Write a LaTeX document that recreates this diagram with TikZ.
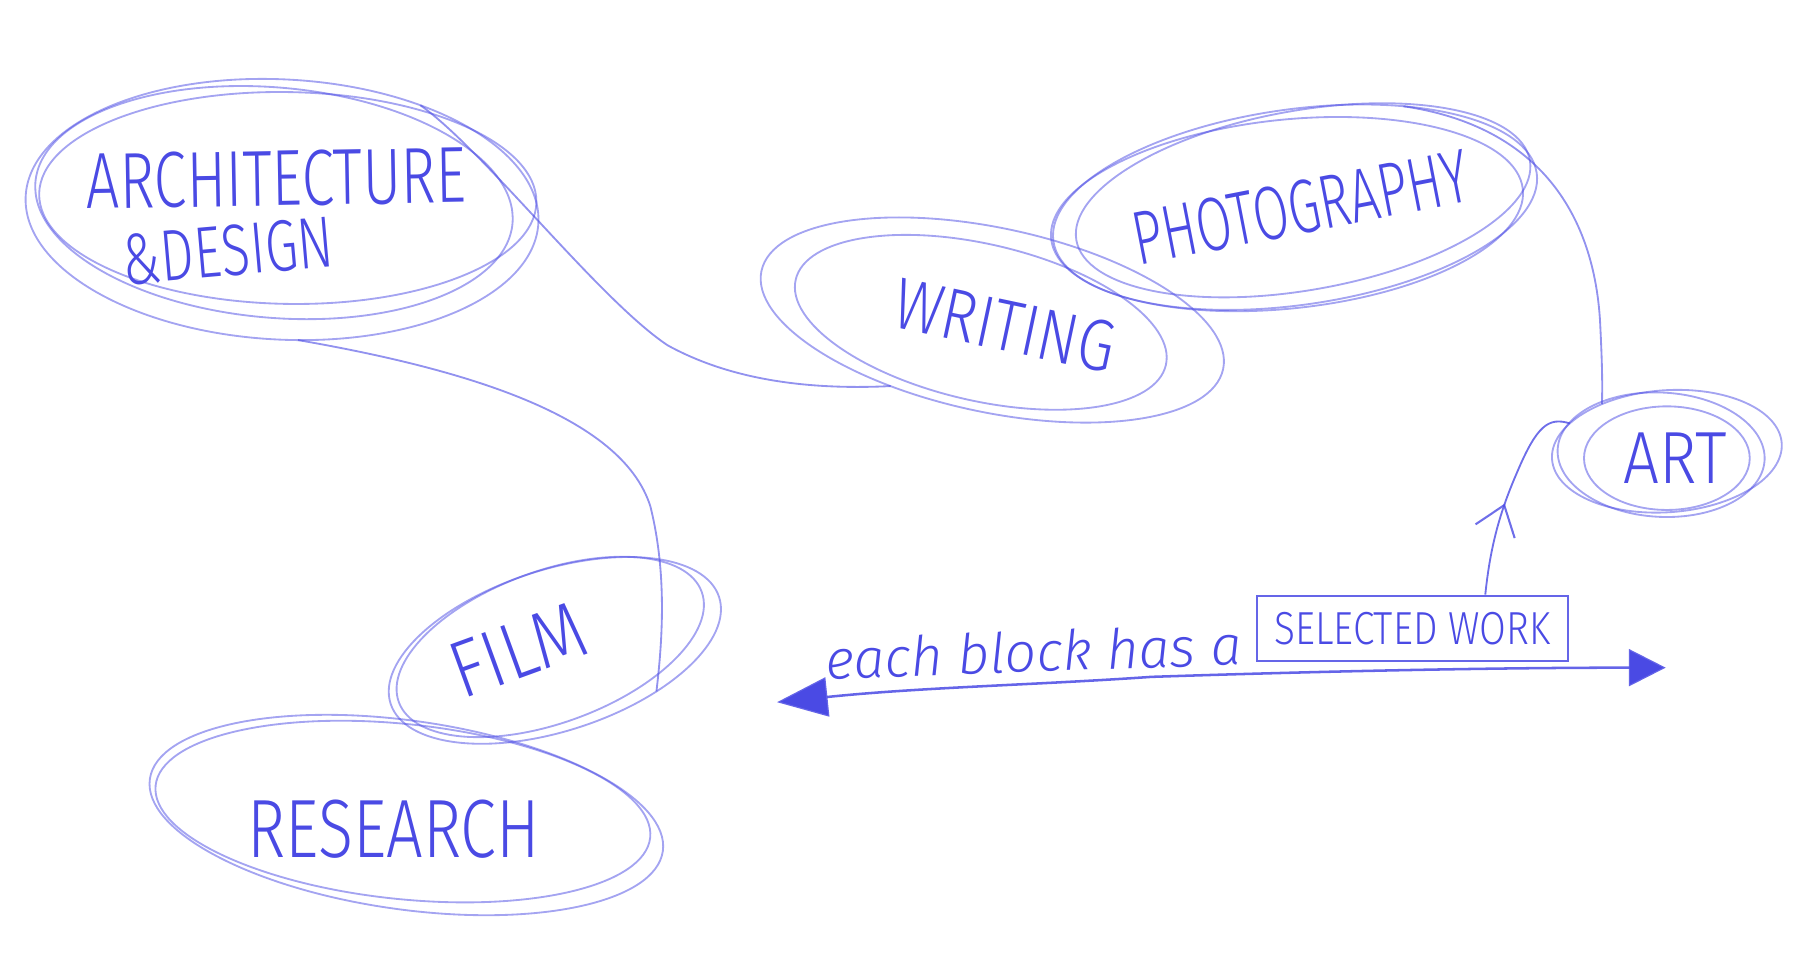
\documentclass[tikz,border=0pt]{standalone}
\usepackage{fontspec}
\setmainfont{Fira Sans}[UprightFont=* Light, ItalicFont=* Light Italic]
\usetikzlibrary{shapes.geometric,arrows.meta,decorations.markings}
\definecolor{pen}{RGB}{74,74,228}
\tikzset{
  stroke/.style={draw=pen, line width=0.8pt, draw opacity=0.5},
  bubble/.style={stroke, ellipse, inner sep=0pt, outer sep=0pt},
  lbl/.style={text=pen, inner sep=0pt},
  link/.style={draw=pen, line width=0.8pt, draw opacity=0.6},
  boxed/.style={draw=pen, line width=1pt, draw opacity=0.85, rectangle, inner sep=0pt,
    minimum width=135pt, minimum height=28.5pt, text=pen},
  bigarrow/.style={draw=pen, line width=1.1pt, draw opacity=0.85},
}
\begin{document}
\begin{tikzpicture}[x=0.5pt,y=-0.5pt]
\useasboundingbox (0,0) rectangle (1568,844);

% ARCHITECTURE & DESIGN
\node[bubble, minimum width=223pt, minimum height=113pt, rotate=-3] (arch) at (245,182) {};
\draw[stroke, rotate around={-5:(238,176)}] (238,176) ellipse [x radius=104pt, y radius=50pt];
\draw[stroke, rotate around={-1:(250,172)}] (250,172) ellipse [x radius=108pt, y radius=46pt];
\node[lbl, rotate=1] (tarch) at (240,155) {\resizebox{165pt}{24pt}{ARCHITECTURE}};
\node[lbl, rotate=5] (tdesign) at (198,218) {\resizebox{92pt}{22pt}{\&DESIGN}};

% WRITING
\node[bubble, minimum width=205pt, minimum height=80pt, rotate=-12] (writing) at (862,278) {};
\draw[stroke, rotate around={-13:(852,280)}] (852,280) ellipse [x radius=82.5pt, y radius=34pt];
\node[lbl, rotate=-12] (twriting) at (873,283) {\resizebox{97pt}{22pt}{WRITING}};

% PHOTOGRAPHY
\node[bubble, minimum width=212pt, minimum height=85pt, rotate=8] (photo) at (1125,180) {};
\draw[stroke, rotate around={10:(1132,174)}] (1132,174) ellipse [x radius=100pt, y radius=39pt];
\draw[stroke, rotate around={6:(1118,186)}] (1118,186) ellipse [x radius=103pt, y radius=41pt];
\node[lbl, rotate=11] (tphoto) at (1130,180) {\resizebox{148pt}{23pt}{PHOTOGRAPHY}};

% ART
\node[bubble, minimum width=100pt, minimum height=53pt, rotate=4] (art) at (1448,392) {};
\draw[stroke] (1448,398) ellipse [x radius=36pt, y radius=22.5pt];
\draw[stroke, rotate around={-3:(1443,395)}] (1443,395) ellipse [x radius=45pt, y radius=27pt];
\node[lbl] (tart) at (1455,398) {\resizebox{45pt}{22pt}{ART}};

% FILM
\node[bubble, minimum width=150pt, minimum height=70pt, rotate=18] (film) at (482,565) {};
\draw[stroke, rotate around={20:(478,562)}] (478,562) ellipse [x radius=70pt, y radius=33pt];
\node[lbl, rotate=20] (tfilm) at (450,565) {\resizebox{60pt}{24pt}{FILM}};

% RESEARCH
\node[bubble, minimum width=225pt, minimum height=82pt, rotate=-8] (research) at (353,708) {};
\draw[stroke, rotate around={-6:(350,705)}] (350,705) ellipse [x radius=108pt, y radius=38pt];
\node[lbl] (tresearch) at (342,720) {\resizebox{127pt}{25pt}{RESEARCH}};

% caption and selected work
\node[lbl, rotate=2] (caption) at (898,566) {\resizebox{181pt}{!}{\itshape each block has a}};
\node[boxed] (box) at (1227,546) {\resizebox{120pt}{14pt}{SELECTED WORK}};

% connectors
\draw[link] (arch.40) .. controls (420,130) and (520,260) .. (580,300)
  .. controls (620,322) and (680,340) .. (writing.225);
\draw[link] (arch.280) .. controls (400,320) and (540,360) .. (565,440)
  .. controls (580,500) and (575,560) .. (film.-40);
\draw[link] (photo.35) .. controls (1340,110) and (1385,190) .. (1390,280)
  .. controls (1392,320) and (1392,335) .. (art.140);
\draw[link, draw opacity=0.8, postaction={decorate}, decoration={markings,
   mark=at position 0.45 with {\arrow[draw=pen, line width=0.9pt]{Straight Barb[length=12pt,width=18pt]}}}]
  (box.25) .. controls (1295,470) and (1305,440) .. (1318,410)
  .. controls (1335,370) and (1345,362) .. (art.160);

\coordinate (L) at (675,610);
\coordinate (R) at (1447,580);
\draw[bigarrow, {Triangle[length=22pt,width=17pt,fill=pen]}-{Triangle[length=16pt,width=16pt,fill=pen]}]
  (L) .. controls (800,597) and (900,595) .. (1000,588)
  .. controls (1150,583) and (1300,580) .. (R);
\end{tikzpicture}
\end{document}
